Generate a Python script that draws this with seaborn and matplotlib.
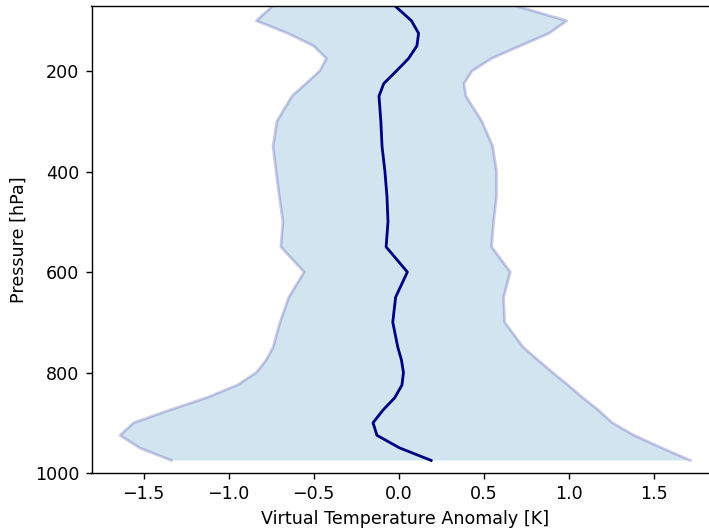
import matplotlib
matplotlib.use("Agg")
import matplotlib.pyplot as plt
import seaborn as sns
import numpy as np
import pandas as pd

pressure = [70, 100, 125, 150, 175, 200, 225, 250, 300, 350, 400, 450, 500, 550,
            600, 650, 700, 750, 775, 800, 825, 850, 875, 900, 925, 950, 975]
mean_anom = [-0.023, 0.075, 0.117, 0.107, 0.058, -0.014, -0.088, -0.116, -0.105, -0.098,
             -0.081, -0.069, -0.063, -0.074, 0.051, -0.018, -0.035, -0.005, 0.016, 0.028,
             0.019, -0.023, -0.093, -0.151, -0.128, 0.005, 0.191]
lower = [-0.74, -0.837, -0.651, -0.50, -0.425, -0.465, -0.546, -0.628, -0.716, -0.739,
         -0.721, -0.702, -0.681, -0.693, -0.556, -0.646, -0.698, -0.739, -0.779, -0.837,
         -0.949, -1.128, -1.349, -1.558, -1.639, -1.524, -1.337]
upper = [0.686, 0.989, 0.884, 0.714, 0.546, 0.431, 0.384, 0.395, 0.489, 0.553,
         0.575, 0.575, 0.558, 0.546, 0.656, 0.617, 0.623, 0.733, 0.819, 0.905,
         0.996, 1.082, 1.175, 1.256, 1.384, 1.547, 1.716]

df = pd.DataFrame({"p": pressure, "mean": mean_anom, "lo": lower, "hi": upper})

dpi = 126
fig = plt.figure(figsize=(709 / dpi, 531 / dpi), dpi=dpi)
ax = fig.add_axes([91.5 / 709, (531 - 473) / 531, (719 - 91.5) / 709, (473 - 5.7) / 531])

ax.fill_betweenx(df["p"], df["lo"], df["hi"], facecolor=(0.12, 0.47, 0.71, 0.2),
                 linewidth=0)
edge = (0.0, 0.0, 0.55, 0.2)
sns.lineplot(data=df, x="lo", y="p", orient="y", sort=False, color=edge,
             linewidth=1.6, ax=ax)
sns.lineplot(data=df, x="hi", y="p", orient="y", sort=False, color=edge,
             linewidth=1.6, ax=ax)
sns.lineplot(data=df, x="mean", y="p", orient="y", sort=False, color="navy",
             linewidth=1.6, ax=ax)

ax.set_ylim(1000, 70)
ax.set_xlabel("Virtual Temperature Anomaly [K]")
ax.set_ylabel("Pressure [hPa]")

fig.savefig("out.png", dpi=dpi)
